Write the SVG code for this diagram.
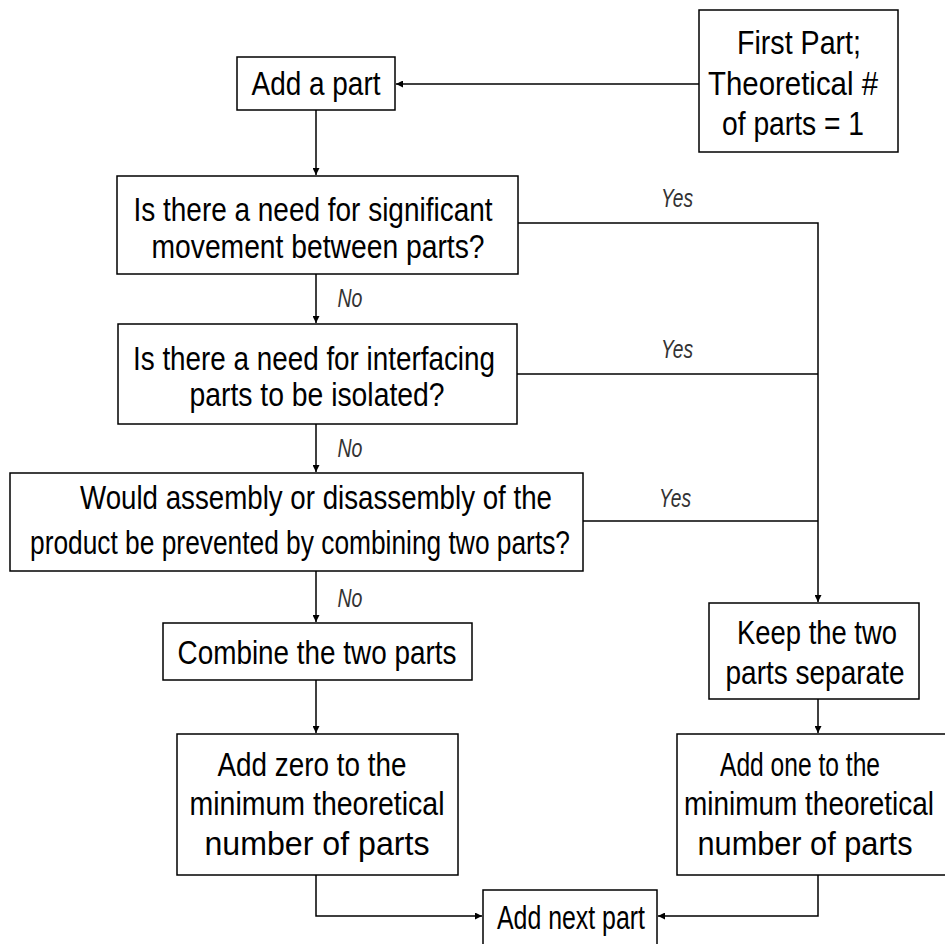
<svg xmlns="http://www.w3.org/2000/svg" width="945" height="944" viewBox="0 0 945 944">
<style>
.box{fill:#fff;stroke:#000;stroke-width:1.5}
.t{font-family:"Liberation Sans",Arial,sans-serif;font-size:33px;fill:#000;text-anchor:middle}
.l{font-family:"Liberation Sans",Arial,sans-serif;font-size:25px;font-style:italic;fill:#333;text-anchor:middle}
.c{fill:none;stroke:#000;stroke-width:1.5}
</style>
<defs>
<marker id="ah" viewBox="0 0 10 10" refX="10" refY="5" markerWidth="7" markerHeight="7" markerUnits="userSpaceOnUse" orient="auto">
<path d="M0,0 L10,5 L0,10 z" fill="#000"/>
</marker>
</defs>
<rect width="945" height="944" fill="#fff"/>
<g id="connectors">
<path class="c" d="M699,84 H396" marker-end="url(#ah)"/>
<path class="c" d="M316,110 V175" marker-end="url(#ah)"/>
<path class="c" d="M316,274 V323" marker-end="url(#ah)"/>
<path class="c" d="M316,424 V472" marker-end="url(#ah)"/>
<path class="c" d="M316,571 V622" marker-end="url(#ah)"/>
<path class="c" d="M316,680 V733" marker-end="url(#ah)"/>
<path class="c" d="M518,223 H818 V602" marker-end="url(#ah)"/>
<path class="c" d="M517,374 H818"/>
<path class="c" d="M583,521 H818"/>
<path class="c" d="M818,699 V733" marker-end="url(#ah)"/>
<path class="c" d="M316,875 V916 H482" marker-end="url(#ah)"/>
<path class="c" d="M818,875 V916 H658" marker-end="url(#ah)"/>
<text class="l" x="677" y="207" textLength="32" lengthAdjust="spacingAndGlyphs">Yes</text>
<text class="l" x="677" y="358" textLength="32" lengthAdjust="spacingAndGlyphs">Yes</text>
<text class="l" x="675" y="507" textLength="32" lengthAdjust="spacingAndGlyphs">Yes</text>
<text class="l" x="350" y="307" textLength="25" lengthAdjust="spacingAndGlyphs">No</text>
<text class="l" x="350" y="457" textLength="25" lengthAdjust="spacingAndGlyphs">No</text>
<text class="l" x="350" y="607" textLength="25" lengthAdjust="spacingAndGlyphs">No</text>
</g>
<g id="first-part">
<rect class="box" x="699" y="10" width="199" height="142"/>
<text class="t" x="799" y="54" textLength="124" lengthAdjust="spacingAndGlyphs">First Part;</text>
<text class="t" x="793" y="95" textLength="170" lengthAdjust="spacingAndGlyphs">Theoretical #</text>
<text class="t" x="793" y="135" textLength="142" lengthAdjust="spacingAndGlyphs">of parts = 1</text>
</g>
<g id="add-a-part">
<rect class="box" x="237" y="57" width="158" height="53"/>
<text class="t" x="316" y="95" textLength="129" lengthAdjust="spacingAndGlyphs">Add a part</text>
</g>
<g id="q-movement">
<rect class="box" x="117" y="176" width="401" height="98"/>
<text class="t" x="313" y="221" textLength="359" lengthAdjust="spacingAndGlyphs">Is there a need for significant</text>
<text class="t" x="318" y="258" textLength="333" lengthAdjust="spacingAndGlyphs">movement between parts?</text>
</g>
<g id="q-isolated">
<rect class="box" x="118" y="324" width="399" height="100"/>
<text class="t" x="314" y="370" textLength="362" lengthAdjust="spacingAndGlyphs">Is there a need for interfacing</text>
<text class="t" x="317" y="406" textLength="255" lengthAdjust="spacingAndGlyphs">parts to be isolated?</text>
</g>
<g id="q-assembly">
<rect class="box" x="10" y="473" width="573" height="98"/>
<text class="t" x="316" y="509" textLength="472" lengthAdjust="spacingAndGlyphs">Would assembly or disassembly of the</text>
<text class="t" x="300" y="554" textLength="540" lengthAdjust="spacingAndGlyphs">product be prevented by combining two parts?</text>
</g>
<g id="combine">
<rect class="box" x="163" y="623" width="309" height="57"/>
<text class="t" x="317" y="664" textLength="279" lengthAdjust="spacingAndGlyphs">Combine the two parts</text>
</g>
<g id="keep-separate">
<rect class="box" x="709" y="603" width="210" height="96"/>
<text class="t" x="817" y="644" textLength="160" lengthAdjust="spacingAndGlyphs">Keep the two</text>
<text class="t" x="815" y="684" textLength="179" lengthAdjust="spacingAndGlyphs">parts separate</text>
</g>
<g id="add-zero">
<rect class="box" x="177" y="734" width="281" height="141"/>
<text class="t" x="312" y="776" textLength="189" lengthAdjust="spacingAndGlyphs">Add zero to the</text>
<text class="t" x="317" y="815" textLength="255" lengthAdjust="spacingAndGlyphs">minimum theoretical</text>
<text class="t" x="317" y="855" textLength="225" lengthAdjust="spacingAndGlyphs">number of parts</text>
</g>
<g id="add-one">
<rect class="box" x="677" y="734" width="280" height="141"/>
<text class="t" x="800" y="776" textLength="160" lengthAdjust="spacingAndGlyphs">Add one to the</text>
<text class="t" x="809" y="815" textLength="250" lengthAdjust="spacingAndGlyphs">minimum theoretical</text>
<text class="t" x="805" y="855" textLength="215" lengthAdjust="spacingAndGlyphs">number of parts</text>
</g>
<g id="add-next">
<rect class="box" x="483" y="890" width="174" height="60"/>
<text class="t" x="571" y="929" textLength="148" lengthAdjust="spacingAndGlyphs">Add next part</text>
</g>
</svg>
